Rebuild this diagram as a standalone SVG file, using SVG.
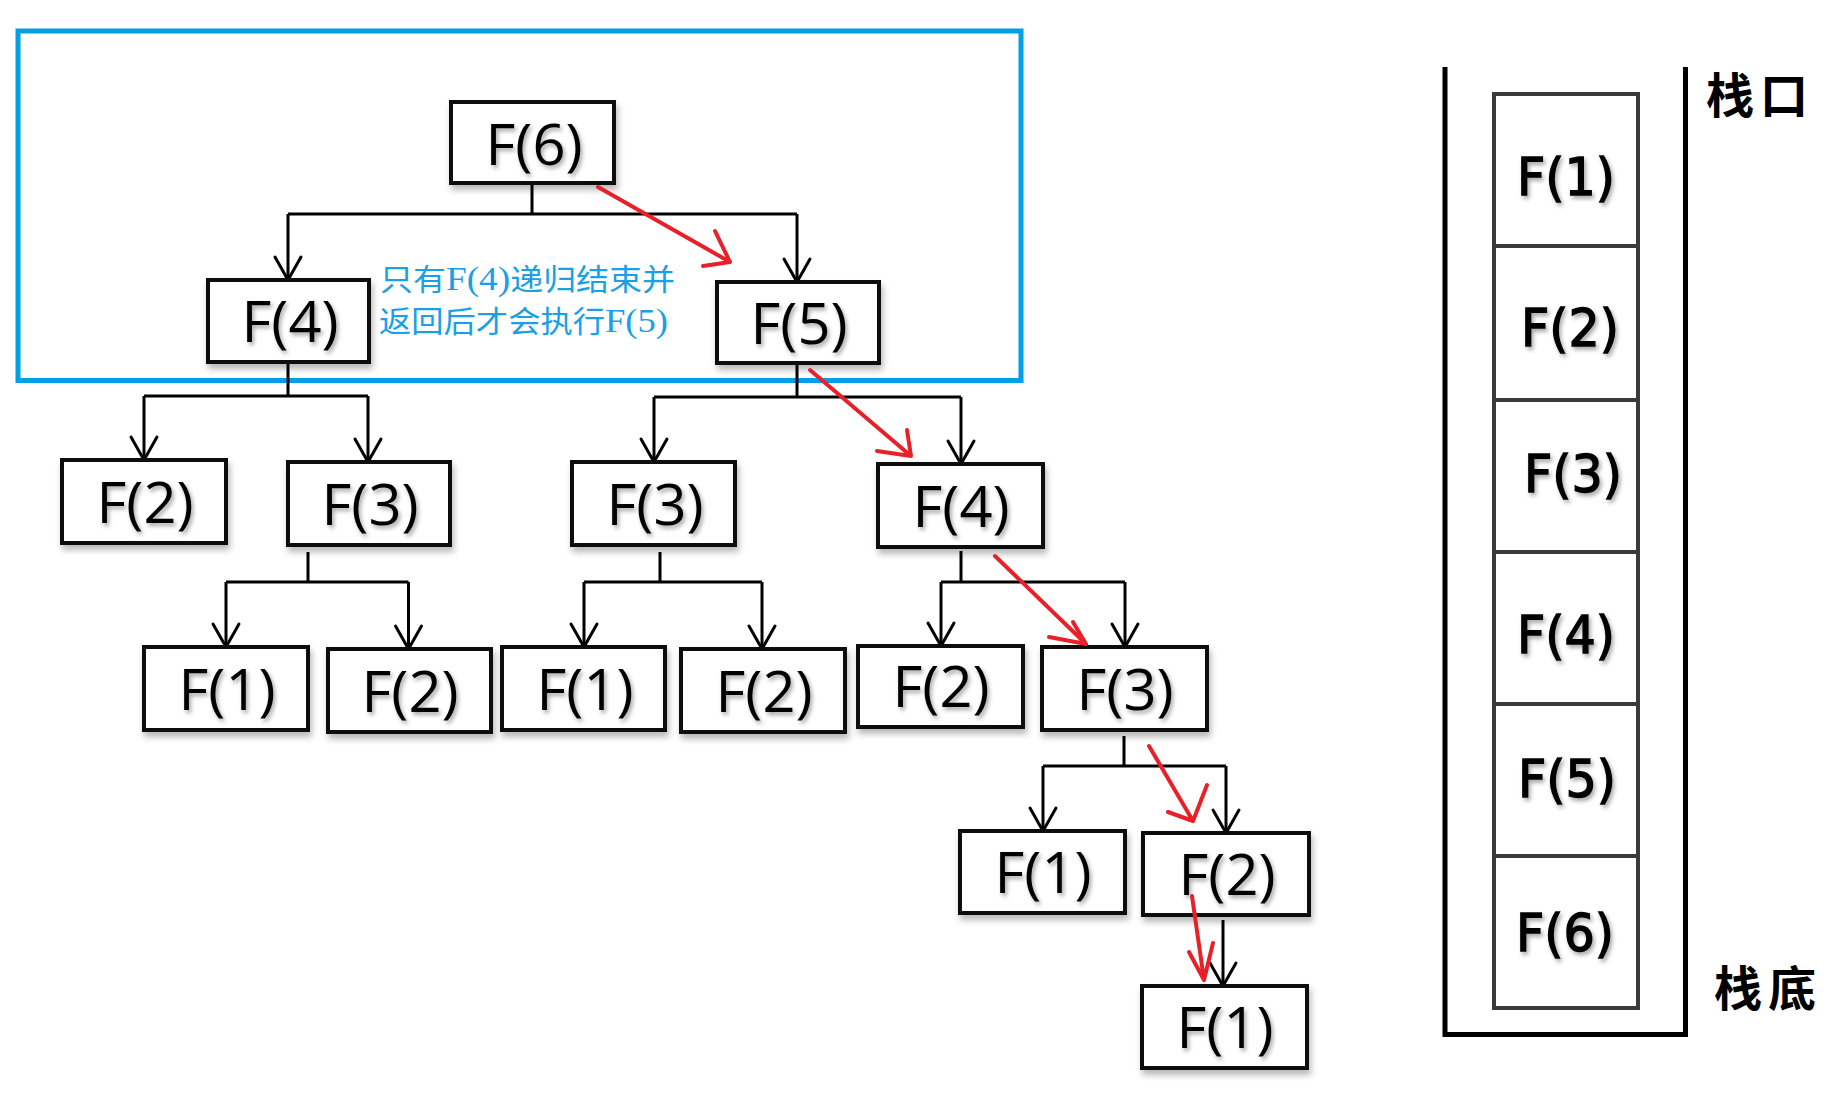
<svg xmlns="http://www.w3.org/2000/svg" width="1846" height="1107" viewBox="0 0 1846 1107">
<defs>
<filter id="bsh" x="-10%" y="-10%" width="125%" height="135%">
<feDropShadow dx="2" dy="5" stdDeviation="3" flood-color="#000" flood-opacity="0.28"/>
</filter>
<filter id="tsh" x="-10%" y="-10%" width="130%" height="140%">
<feDropShadow dx="2" dy="3" stdDeviation="2" flood-color="#000" flood-opacity="0.35"/>
</filter>
<marker id="ah" markerUnits="userSpaceOnUse" viewBox="-26 -16 30 32" refX="0" refY="0" markerWidth="30" markerHeight="32" orient="auto" overflow="visible">
<path d="M-23,-13 L0,0 L-23,13" fill="none" stroke="#000" stroke-width="3" stroke-linejoin="round" stroke-linecap="round"/>
</marker>
</defs>
<style>
.box{fill:#fff;stroke:#111;stroke-width:4;filter:url(#bsh)}
.lbl{font-family:"Open Sans","Noto Sans",sans-serif;font-size:57px;fill:#000;text-anchor:middle;filter:url(#tsh)}
.c{fill:none;stroke:#000;stroke-width:3}
.a{fill:none;stroke:#000;stroke-width:3;marker-end:url(#ah)}
.r{fill:none;stroke:#e8202a;stroke-width:4;stroke-linecap:round;stroke-linejoin:round}
.note{font-family:"Liberation Serif","Noto Sans CJK SC",serif;font-size:30px;fill:#1aa0e6}
.lat{font-size:34px}
.cell{fill:#fff;stroke:#3a3a3a;stroke-width:4}
.slbl{font-family:"DejaVu Sans",sans-serif;font-size:52px;fill:#000;stroke:#000;stroke-width:1.4;text-anchor:middle;filter:url(#tsh)}
.cn{font-family:"Noto Sans CJK SC",sans-serif;font-size:48px;font-weight:bold;fill:#000}
</style>
<rect x="0" y="0" width="1846" height="1107" fill="#fff"/>

<rect x="18" y="31" width="1003" height="349.5" fill="none" stroke="#00a0e9" stroke-width="5"/>

<g id="connectors">
<path class="c" d="M532,183 V214 M288,214 H797"/>
<path class="a" d="M288,214 V280"/>
<path class="a" d="M797,214 V282"/>
<path class="c" d="M288,362 V396 M144,396 H368"/>
<path class="a" d="M144,396 V460"/>
<path class="a" d="M368,396 V462"/>
<path class="c" d="M797,363 V397 M654,397 H961"/>
<path class="a" d="M654,397 V462"/>
<path class="a" d="M961,397 V464"/>
<path class="c" d="M308,552 V582 M226,582 H408.5"/>
<path class="a" d="M226,582 V647"/>
<path class="a" d="M408.5,582 V649"/>
<path class="c" d="M660,552 V582 M584,582 H762"/>
<path class="a" d="M584,582 V647"/>
<path class="a" d="M762,582 V649"/>
<path class="c" d="M961,551 V582 M941,582 H1125"/>
<path class="a" d="M941,582 V646"/>
<path class="a" d="M1125,582 V647"/>
<path class="c" d="M1124,736 V766 M1043,766 H1226"/>
<path class="a" d="M1043,766 V831"/>
<path class="a" d="M1226,766 V833"/>
<path class="a" d="M1223,920 V986"/>
</g>

<g id="n-f6"><rect class="box" x="451" y="102" width="163" height="81"/><text class="lbl" x="534" y="165" textLength="97" lengthAdjust="spacingAndGlyphs">F(6)</text></g>
<g id="n-f4a"><rect class="box" x="208" y="280" width="161" height="82"/><text class="lbl" x="290" y="342" textLength="97" lengthAdjust="spacingAndGlyphs">F(4)</text></g>
<g id="n-f5"><rect class="box" x="717" y="282" width="162" height="81"/><text class="lbl" x="799" y="344" textLength="97" lengthAdjust="spacingAndGlyphs">F(5)</text></g>
<g id="n-f2a"><rect class="box" x="62" y="460" width="164" height="83"/><text class="lbl" x="145" y="523" textLength="97" lengthAdjust="spacingAndGlyphs">F(2)</text></g>
<g id="n-f3a"><rect class="box" x="288" y="462" width="162" height="83"/><text class="lbl" x="370" y="525" textLength="97" lengthAdjust="spacingAndGlyphs">F(3)</text></g>
<g id="n-f3b"><rect class="box" x="572" y="462" width="163" height="83"/><text class="lbl" x="655" y="525" textLength="97" lengthAdjust="spacingAndGlyphs">F(3)</text></g>
<g id="n-f4b"><rect class="box" x="878" y="464" width="165" height="83"/><text class="lbl" x="961" y="527" textLength="97" lengthAdjust="spacingAndGlyphs">F(4)</text></g>
<g id="n-f1a"><rect class="box" x="144" y="647" width="164" height="83"/><text class="lbl" x="227" y="710" textLength="97" lengthAdjust="spacingAndGlyphs">F(1)</text></g>
<g id="n-f2b"><rect class="box" x="328" y="649" width="163" height="83"/><text class="lbl" x="410" y="712" textLength="97" lengthAdjust="spacingAndGlyphs">F(2)</text></g>
<g id="n-f1b"><rect class="box" x="502" y="647" width="163" height="83"/><text class="lbl" x="585" y="710" textLength="97" lengthAdjust="spacingAndGlyphs">F(1)</text></g>
<g id="n-f2c"><rect class="box" x="681" y="649" width="164" height="83"/><text class="lbl" x="764" y="712" textLength="97" lengthAdjust="spacingAndGlyphs">F(2)</text></g>
<g id="n-f2d"><rect class="box" x="858" y="646" width="165" height="81"/><text class="lbl" x="941" y="707" textLength="97" lengthAdjust="spacingAndGlyphs">F(2)</text></g>
<g id="n-f3c"><rect class="box" x="1042" y="647" width="165" height="83"/><text class="lbl" x="1125" y="710" textLength="97" lengthAdjust="spacingAndGlyphs">F(3)</text></g>
<g id="n-f1c"><rect class="box" x="960" y="831" width="165" height="82"/><text class="lbl" x="1043" y="893" textLength="97" lengthAdjust="spacingAndGlyphs">F(1)</text></g>
<g id="n-f2e"><rect class="box" x="1143" y="833" width="166" height="82"/><text class="lbl" x="1227" y="895" textLength="97" lengthAdjust="spacingAndGlyphs">F(2)</text></g>
<g id="n-f1d"><rect class="box" x="1142" y="986" width="165" height="82"/><text class="lbl" x="1225" y="1048" textLength="97" lengthAdjust="spacingAndGlyphs">F(1)</text></g>

<g id="red-arrows">
<path class="r" d="M598,187 L730,262 M715,231 L730,262 L703,266"/>
<path class="r" d="M810,370 L911,456 M907,430 L911,456 L877,451"/>
<path class="r" d="M995,556 L1086,644 M1073,622 L1086,644 L1049,637"/>
<path class="r" d="M1149,746 L1193,821 M1207,785 L1193,821 L1168,812"/>
<path class="r" d="M1192,896 L1204,980 M1213,943 L1204,980 L1189,952"/>
</g>

<g id="note">
<text class="note" x="380" y="290" textLength="295" lengthAdjust="spacingAndGlyphs">只有<tspan class="lat">F(4)</tspan>递归结束并</text>
<text class="note" x="379" y="332" textLength="289" lengthAdjust="spacingAndGlyphs">返回后才会执行<tspan class="lat">F(5)</tspan></text>
</g>

<g id="stack">
<path d="M1445,67 V1034.5 H1685.5 V67" fill="none" stroke="#000" stroke-width="5"/>
<rect class="cell" x="1494" y="94" width="144" height="152"/>
<rect class="cell" x="1494" y="246" width="144" height="154"/>
<rect class="cell" x="1494" y="400" width="144" height="152"/>
<rect class="cell" x="1494" y="552" width="144" height="152"/>
<rect class="cell" x="1494" y="704" width="144" height="152"/>
<rect class="cell" x="1494" y="856" width="144" height="152"/>
<text class="slbl" x="1566" y="195" textLength="98" lengthAdjust="spacingAndGlyphs">F(1)</text>
<text class="slbl" x="1570" y="346" textLength="98" lengthAdjust="spacingAndGlyphs">F(2)</text>
<text class="slbl" x="1573" y="492" textLength="98" lengthAdjust="spacingAndGlyphs">F(3)</text>
<text class="slbl" x="1566" y="653" textLength="98" lengthAdjust="spacingAndGlyphs">F(4)</text>
<text class="slbl" x="1567" y="797" textLength="98" lengthAdjust="spacingAndGlyphs">F(5)</text>
<text class="slbl" x="1565" y="951" textLength="98" lengthAdjust="spacingAndGlyphs">F(6)</text>
<text class="cn" x="1706" y="113" letter-spacing="6">栈口</text>
<text class="cn" x="1714" y="1006" letter-spacing="6">栈底</text>
</g>
</svg>
